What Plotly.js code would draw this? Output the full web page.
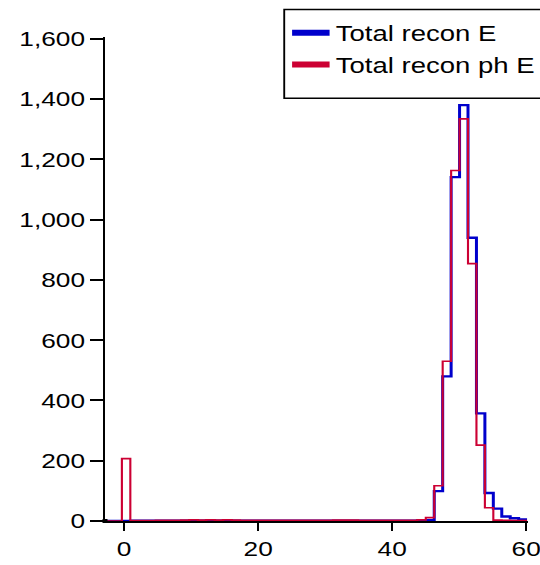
<!DOCTYPE html>
<html>
<head>
<meta charset="utf-8">
<script src="https://cdn.plot.ly/plotly-3.0.1.min.js"></script>
<style>
html, body { margin: 0; padding: 0; background: #fff; overflow: hidden; }
#plot { width: 432px; height: 565px; transform: scaleX(1.25); transform-origin: 0 0; }
</style>
</head>
<body>
<div id="plot"></div>
<script>
// Bin left edges (x), last entry is the right edge of the final bin
const binEdges = [-2.86, -1.60, -0.34, 0.92, 2.18, 3.44, 4.70, 5.96, 7.22, 8.48,
  9.74, 11.00, 12.26, 13.52, 14.78, 16.04, 17.30, 18.56, 19.82, 21.08,
  22.34, 23.60, 24.86, 26.12, 27.38, 28.64, 29.90, 31.16, 32.42, 33.68,
  34.94, 36.20, 37.46, 38.72, 39.98, 41.24, 42.50, 43.76, 45.02, 46.28,
  47.54, 48.80, 50.06, 51.32, 52.58, 53.84, 55.10, 56.36, 57.62, 58.88, 60.14];

// Counts per bin
const totalReconE = [0, 0, 0, 1, 1, 1, 1, 1, 1, 1,
  2, 1, 2, 1, 2, 1, 1, 1, 1, 1,
  1, 1, 1, 1, 1, 1, 1, 1, 1, 1,
  1, 1, 1, 1, 1, 1, 1, 2, 3, 99,
  480, 1141, 1380, 940, 357, 93, 41, 15, 9, 5];

const totalReconPhE = [0, 0, 207, 1, 1, 1, 2, 2, 2, 3,
  4, 3, 4, 3, 4, 3, 2, 2, 2, 2,
  2, 2, 2, 2, 2, 2, 2, 3, 3, 3,
  2, 2, 2, 2, 2, 2, 2, 4, 11, 117,
  530, 1163, 1334, 854, 252, 44, 3, 2, 1, 1];

const seriesNames = ["Total recon E", "Total recon ph E"];
const seriesColors = ["#0000cc", "#cc0033"];

const xTicks = [0, 20, 40, 60];
const yTicks = [0, 200, 400, 600, 800, 1000, 1200, 1400, 1600];

function stepY(counts) { return counts.concat([counts[counts.length - 1]]); }

const FONT = "Liberation Sans, Arial, Helvetica, sans-serif";

const traces = [
  { x: binEdges, y: stepY(totalReconE), type: "scatter", mode: "lines",
    line: { shape: "hv", color: seriesColors[0], width: 2.4 }, showlegend: false,
    xaxis: "x", yaxis: "y", hoverinfo: "skip" },
  { x: binEdges, y: stepY(totalReconPhE), type: "scatter", mode: "lines",
    line: { shape: "hv", color: seriesColors[1], width: 1.7 }, showlegend: false,
    xaxis: "x", yaxis: "y", hoverinfo: "skip" },
  { x: [null], y: [null], type: "scatter", mode: "lines", name: seriesNames[0],
    line: { color: seriesColors[0], width: 6 }, showlegend: true },
  { x: [null], y: [null], type: "scatter", mode: "lines", name: seriesNames[1],
    line: { color: seriesColors[1], width: 6 }, showlegend: true }
];

const xr = [-2.86, 60.2];
const yr = [0, 1606];

const layout = {
  width: 432, height: 565,
  margin: { l: 84, r: 10.4, t: 36.5, b: 44, pad: 0, autoexpand: false },
  paper_bgcolor: "#ffffff", plot_bgcolor: "#ffffff",
  font: { family: FONT, size: 22, color: "#000" },
  showlegend: true,
  legend: {
    x: 0.4236, y: 1.0547, xanchor: "left", yanchor: "top",
    bgcolor: "rgba(0,0,0,0)", bordercolor: "rgba(0,0,0,0)", borderwidth: 1.5,
    font: { family: FONT, size: 22, color: "#000" }
  },
  xaxis: {
    range: xr, tickvals: xTicks, ticks: "outside", ticklen: 8, tickwidth: 1.6,
    tickcolor: "#000", showline: true, linecolor: "#000", linewidth: 1.7,
    showgrid: false, zeroline: false, tickfont: { family: FONT, size: 21, color: "#000" },
    ticklabelstandoff: 3.5, ticklabeloverflow: "allow", anchor: "y", fixedrange: true
  },
  xaxis2: {
    range: xr, tickvals: xTicks, ticks: "inside", ticklen: 10, tickwidth: 1.6,
    tickcolor: "#000", showline: false, showgrid: false, zeroline: false,
    showticklabels: false, overlaying: "x", anchor: "y", side: "bottom"
  },
  yaxis: {
    range: yr, tickvals: yTicks, tickformat: ",d", ticks: "outside", ticklen: 10, tickwidth: 2,
    tickcolor: "#000", showline: true, linecolor: "#000", linewidth: 1.8,
    showgrid: false, zeroline: false, tickfont: { family: FONT, size: 21, color: "#000" },
    ticklabelstandoff: 4.5, ticklabeloverflow: "allow", anchor: "x", fixedrange: true
  },
  yaxis2: {
    range: yr, tickvals: yTicks, ticks: "inside", ticklen: 9, tickwidth: 2,
    tickcolor: "#000", showline: false, showgrid: false, zeroline: false,
    showticklabels: false, overlaying: "y", anchor: "x", side: "left"
  },
  shapes: [
    {
      type: "rect", xref: "paper", yref: "paper", xsizemode: "pixel", ysizemode: "pixel",
      xanchor: 0, yanchor: 0, x0: -2, x1: 2, y0: -2, y1: 2,
      fillcolor: "#000", line: { width: 0 }
    },
    {
      type: "rect", xref: "paper", yref: "paper", layer: "above",
      x0: 0.4242, x1: 1.2, y0: 0.8737, y1: 1.0568,
      fillcolor: "rgba(0,0,0,0)", line: { color: "#000", width: 1.5 }
    }
  ]
};

Plotly.newPlot("plot", traces, layout, { displayModeBar: false, staticPlot: true });
</script>
</body>
</html>
